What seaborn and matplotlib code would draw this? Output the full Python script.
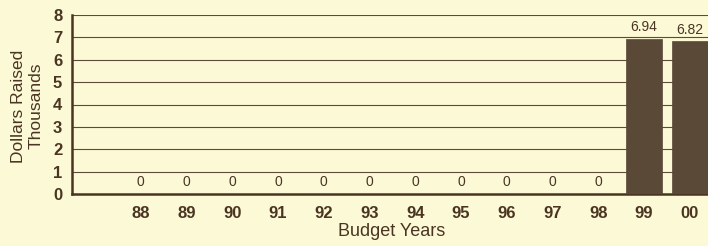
import matplotlib
matplotlib.use("Agg")
import matplotlib.pyplot as plt
import seaborn as sns
import pandas as pd

years = ["88", "89", "90", "91", "92", "93", "94", "95", "96", "97", "98", "99", "00"]
dollars = [0, 0, 0, 0, 0, 0, 0, 0, 0, 0, 0, 6.94, 6.82]
value_labels = ["0", "0", "0", "0", "0", "0", "0", "0", "0", "0", "0", "6.94", "6.82"]
y_ticks = [0, 1, 2, 3, 4, 5, 6, 7, 8]

sns.set_theme(style="white")
plt.rcParams['font.family'] = ['Liberation Sans', 'DejaVu Sans']

BG = "#fcf9d6"
BAR = "#5a4936"
TXT = "#4a3522"
GRID = "#5e4a38"

df = pd.DataFrame({"year": years, "dollars": dollars})

fig = plt.figure(figsize=(7.08, 2.46), dpi=100, facecolor=BG)
ax = fig.add_axes([72 / 708, 52 / 246, 636 / 708, 179 / 246])
ax.set_facecolor(BG)

sns.barplot(data=df, x="year", y="dollars", order=years, color=BAR,
            width=0.78, saturation=1, ax=ax, edgecolor=BAR, linewidth=0.5, zorder=3)

ax.set_xlim(-1.5, 12.4)
ax.set_ylim(0, 8)
ax.set_yticks(y_ticks)
ax.set_yticklabels([str(t) for t in y_ticks], fontsize=12, fontweight="bold", color=TXT)
ax.set_xticks(range(len(years)))
ax.set_xticklabels(years, fontsize=12, fontweight="bold", color=TXT)
ax.tick_params(axis="both", length=0)
ax.tick_params(axis="y", pad=7)
ax.tick_params(axis="x", pad=9)

for y in y_ticks[1:]:
    ax.axhline(y, color=GRID, linewidth=0.8, zorder=1)

for i, (v, lab) in enumerate(zip(dollars, value_labels)):
    ax.annotate(lab, (i, v), xytext=(0, 3.5), textcoords="offset points",
                ha="center", va="bottom", fontsize=10, color=TXT, zorder=4,
                annotation_clip=False)

for s in ["top", "right"]:
    ax.spines[s].set_visible(False)
for s in ["left", "bottom"]:
    ax.spines[s].set_color(TXT)
    ax.spines[s].set_linewidth(1.8)

ax.set_xlabel("")
ax.set_ylabel("")
fig.text(392 / 708, 1 - 232 / 246, "Budget Years", ha="center", va="center",
         fontsize=13, color=TXT)
fig.text(27 / 708, 1 - 106 / 246, "Dollars Raised\nThousands", rotation=90,
         ha="center", va="center", fontsize=12.5, color=TXT, linespacing=1.2,
         multialignment="center")

fig.savefig("out.png", dpi=100, facecolor=BG)
